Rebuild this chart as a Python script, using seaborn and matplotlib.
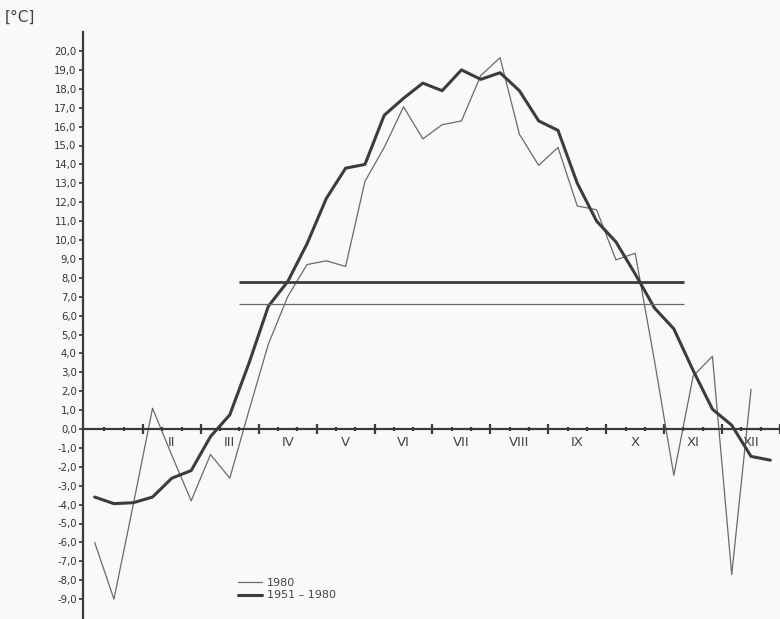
import numpy as np
import pandas as pd
import matplotlib
matplotlib.use("Agg")
import matplotlib.pyplot as plt
import seaborn as sns

# ---- data (decade = 10-day period, 3 per month) ----
month_labels = ["", "II", "III", "IV", "V", "VI", "VII", "VIII", "IX", "X", "XI", "XII"]
temp_1980 = [-6.0, -9.0, -4.0, 1.1, -1.4, -3.8, -1.35, -2.6, 1.0, 4.5, 7.0, 8.7,
             8.9, 8.6, 13.1, 14.9, 17.05, 15.35, 16.1, 16.3, 18.7, 19.65, 15.6, 13.95,
             14.9, 11.8, 11.6, 8.95, 9.3, 3.6, -2.45, 2.8, 3.85, -7.7, 2.1, np.nan]
temp_1951_1980 = [-3.6, -3.95, -3.9, -3.6, -2.6, -2.2, -0.4, 0.75, 3.5, 6.5, 7.8, 9.8,
                  12.2, 13.8, 14.0, 16.6, 17.5, 18.3, 17.9, 19.0, 18.5, 18.85, 17.9, 16.3,
                  15.8, 13.0, 11.0, 9.9, 8.2, 6.4, 5.3, 3.1, 1.05, 0.2, -1.45, -1.65]
mean_1980 = 6.6
mean_1951_1980 = 7.8
y_tick_values = list(range(-9, 21))
series_names = ["1980", "1951 – 1980"]

n_dec = len(temp_1980)
dec_pos = (np.arange(n_dec) + 0.5) / 3.0   # position in month units

df = pd.DataFrame({
    "x": np.concatenate([dec_pos, dec_pos]),
    "t": np.concatenate([temp_1980, temp_1951_1980]),
    "seria": [series_names[0]] * n_dec + [series_names[1]] * n_dec,
})

sns.set_style("ticks")
plt.rcParams["font.family"] = ["DejaVu Sans"]

W, H = 780, 619
fig = plt.figure(figsize=(W / 100, H / 100), dpi=100)
paper = "#f9f9f7"
fig.patch.set_facecolor(paper)

ax_left_px, ax_right_px, ax_top_px, ax_bot_px = 83, 780, 32, 619
ax = fig.add_axes([ax_left_px / W, 1 - ax_bot_px / H,
                   (ax_right_px - ax_left_px) / W, (ax_bot_px - ax_top_px) / H])
ax.set_facecolor(paper)

# x: month 0 at px 85, 58 px per month
x0_px, month_px = 85, 58.0
ax.set_xlim((ax_left_px - x0_px) / month_px, (ax_right_px - x0_px) / month_px)
# y: 0 at px 429, 18.9 px per degree
y0_px, deg_px = 429, 18.9
ax.set_ylim((y0_px - ax_bot_px) / deg_px, (y0_px - ax_top_px) / deg_px)

thin_col = "#6a6a6a"
thick_col = "#3c3c3c"
sns.lineplot(data=df[df.seria == series_names[0]], x="x", y="t", ax=ax,
             color=thin_col, linewidth=0.9, label=series_names[0])
sns.lineplot(data=df[df.seria == series_names[1]], x="x", y="t", ax=ax,
             color=thick_col, linewidth=2.2, label=series_names[1])

# annual mean lines
h_start, h_end = (239 - x0_px) / month_px, (685 - x0_px) / month_px
ax.hlines(mean_1951_1980, h_start, h_end, color=thick_col, linewidth=2.0)
ax.hlines(mean_1980, h_start, h_end, color=thin_col, linewidth=0.9)

# spines
for s in ["top", "right"]:
    ax.spines[s].set_visible(False)
ax.spines["bottom"].set_position(("data", 0))
ax.spines["bottom"].set_linewidth(1.6)
ax.spines["bottom"].set_color("#3a3a3a")
ax.spines["left"].set_linewidth(1.6)
ax.spines["left"].set_color("#3a3a3a")

# y ticks
ax.set_yticks(y_tick_values)
ax.set_yticklabels([f"{v:.1f}".replace(".", ",") for v in y_tick_values],
                   fontsize=7.3, color="#333333")
ax.tick_params(axis="y", direction="out", length=3, width=1.2, pad=1.5, colors="#333333")

# x ticks: month boundaries (major) and decade boundaries (minor)
ax.set_xticks(np.arange(1, 13))
ax.set_xticklabels([])
ax.set_xticks([m + k / 3 for m in range(12) for k in (1, 2)], minor=True)
ax.tick_params(axis="x", which="major", direction="inout", length=7, width=1.6, color="#3a3a3a")
ax.tick_params(axis="x", which="minor", direction="inout", length=3.5, width=1.6, color="#3a3a3a")
ax.set_xlabel("")
ax.set_ylabel("")

for m, lab in enumerate(month_labels):
    if lab:
        ax.annotate(lab, xy=(m + 0.5, 0), xytext=(0, -5), textcoords="offset points",
                    ha="center", va="top", fontsize=9.5, color="#444444")

# unit label
fig.text(5 / W, 1 - 17 / H, "[°C]", fontsize=11, color="#444444", va="center", ha="left")

# legend
ax.legend_.remove() if ax.legend_ else None
handles, labels = ax.get_legend_handles_labels()
fig.legend(handles, labels, loc="center left", bbox_to_anchor=(238 / W, 1 - 589 / H),
           frameon=False, fontsize=8, handlelength=2.2, handletextpad=0.4,
           labelspacing=0.25, borderpad=0, borderaxespad=0, labelcolor="#444444")

fig.savefig("out.png", dpi=100, facecolor=paper)
